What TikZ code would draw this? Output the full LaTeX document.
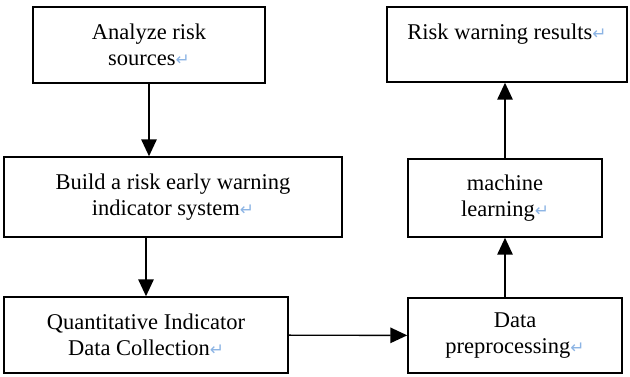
\documentclass[tikz,border=0pt]{standalone}
\usepackage{fontspec}
\setmainfont{Liberation Serif}
\newfontfamily\markfont{DejaVu Sans}
\usepackage{tikz}
\usetikzlibrary{arrows.meta}
\definecolor{markblue}{RGB}{140,180,228}
\newcommand{\ret}{{\markfont\color{markblue}\fontsize{12}{12}\selectfont ↵}}

\begin{document}
\begin{tikzpicture}[x=0.025cm, y=-0.025cm, >={Triangle[length=12pt,width=11pt]},
  stage/.style={draw,line width=1.1pt,inner sep=0pt,align=center,
    font=\fontsize{16}{18.5}\selectfont}]
  \useasboundingbox (0,0) rectangle (630,376);
  \node[stage,minimum width=5.8cm,minimum height=1.9cm] (src) at (149,45)
    {Analyze risk\\ sources\ret};
  \node[stage,minimum width=8.45cm,minimum height=2cm] (ind) at (173,197)
    {Build a risk early warning\\ indicator system\ret};
  \node[stage,minimum width=7.1cm,minimum height=1.9cm] (col) at (146,335)
    {Quantitative Indicator\\ Data Collection\ret};
  \node[stage,minimum width=5.35cm,minimum height=1.875cm] (pre) at (515,335.5)
    {Data\\ preprocessing\ret};
  \node[stage,minimum width=4.85cm,minimum height=1.95cm] (ml) at (505,198)
    {machine\\ learning\ret};
  \node[stage,minimum width=6cm,minimum height=1.875cm] (res) at (507,44.5)
    {Risk warning results\ret\\ \mbox{}};
  \draw[->,line width=1pt] (src) -- (src |- ind.north);
  \draw[->,line width=1pt] (ind.south -| col) -- (col);
  \draw[->,line width=1pt] (col) -- (pre);
  \draw[->,line width=1pt] (pre.north -| ml) -- (ml);
  \draw[->,line width=1pt] (ml) -- (ml |- res.south);
\end{tikzpicture}
\end{document}
